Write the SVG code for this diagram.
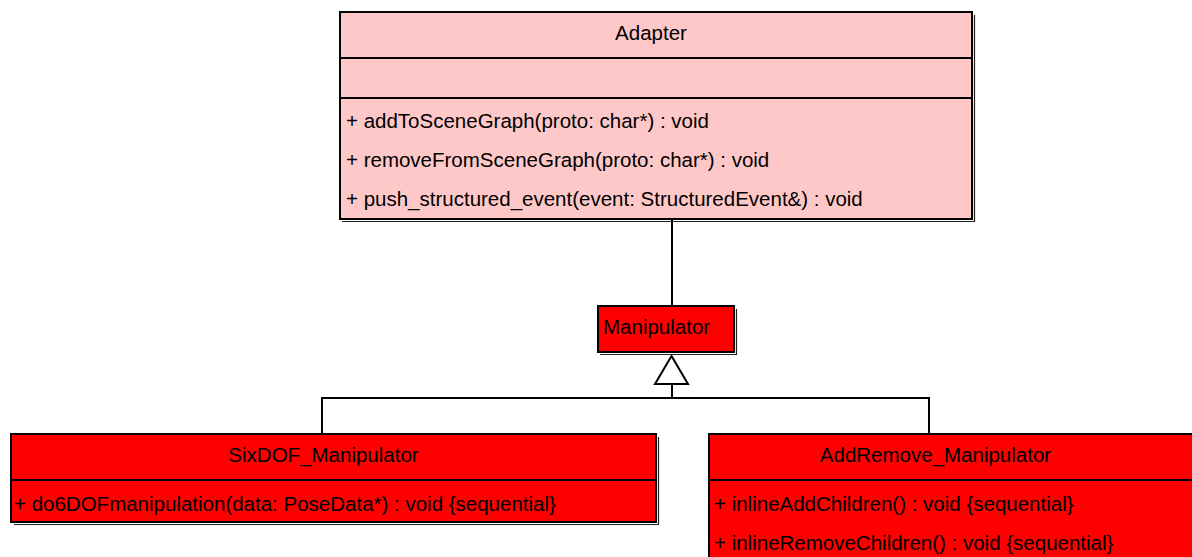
<svg xmlns="http://www.w3.org/2000/svg" width="1192" height="557" viewBox="0 0 1192 557">
  <style>
    .box { stroke: #000; stroke-width: 2; }
    .pink { fill: #ffc8c8; }
    .red { fill: #ff0000; }
    .shadow { fill: none; stroke: #222; stroke-width: 1.2; }
    .sep { stroke: #000; stroke-width: 2; }
    .t { font-family: "Liberation Sans", Arial, sans-serif; font-size: 20.5px; fill: #000; }
    .c { text-anchor: middle; }
    .edge { fill: none; stroke: #000; stroke-width: 2; }
  </style>

  <!-- connectors -->
  <g id="connectors">
    <line class="edge" x1="672" y1="220" x2="672" y2="306"/>
    <polyline class="edge" points="322,434 322,398 929,398 929,434"/>
    <line class="edge" x1="672" y1="384" x2="672" y2="398"/>
    <polygon points="671.5,356 655,384 688,384" fill="#fff" stroke="#000" stroke-width="2"/>
  </g>

  <!-- Adapter class -->
  <g id="adapter">
    <polyline class="shadow" points="974.5,15 974.5,221.5 342,221.5"/>
    <rect class="box pink" x="340" y="12" width="632" height="207"/>
    <line class="sep" x1="340" y1="58" x2="972" y2="58"/>
    <line class="sep" x1="340" y1="98" x2="972" y2="98"/>
    <text class="t c" x="651" y="40">Adapter</text>
    <text class="t" x="346" y="128">+ addToSceneGraph(proto: char*) : void</text>
    <text class="t" x="346" y="167">+ removeFromSceneGraph(proto: char*) : void</text>
    <text class="t" x="346" y="206">+ push_structured_event(event: StructuredEvent&amp;) : void</text>
  </g>

  <!-- Manipulator class -->
  <g id="manipulator">
    <polyline class="shadow" points="736.5,309 736.5,354.5 600,354.5"/>
    <rect class="box red" x="598" y="306" width="136" height="46"/>
    <text class="t" x="603" y="334">Manipulator</text>
  </g>

  <!-- SixDOF_Manipulator class -->
  <g id="sixdof-manipulator">
    <polyline class="shadow" points="658.5,437 658.5,524.5 14,524.5"/>
    <rect class="box red" x="11" y="434" width="645" height="88"/>
    <line class="sep" x1="11" y1="480" x2="656" y2="480"/>
    <text class="t c" x="323.5" y="462">SixDOF_Manipulator</text>
    <text class="t" x="14" y="511">+ do6DOFmanipulation(data: PoseData*) : void {sequential}</text>
  </g>

  <!-- AddRemove_Manipulator class -->
  <g id="addremove-manipulator">
    <rect class="box red" x="709" y="434" width="500" height="140"/>
    <line class="sep" x1="709" y1="480" x2="1209" y2="480"/>
    <text class="t c" x="935.5" y="462">AddRemove_Manipulator</text>
    <text class="t" x="714" y="511">+ inlineAddChildren() : void {sequential}</text>
    <text class="t" x="714" y="550">+ inlineRemoveChildren() : void {sequential}</text>
  </g>
</svg>
